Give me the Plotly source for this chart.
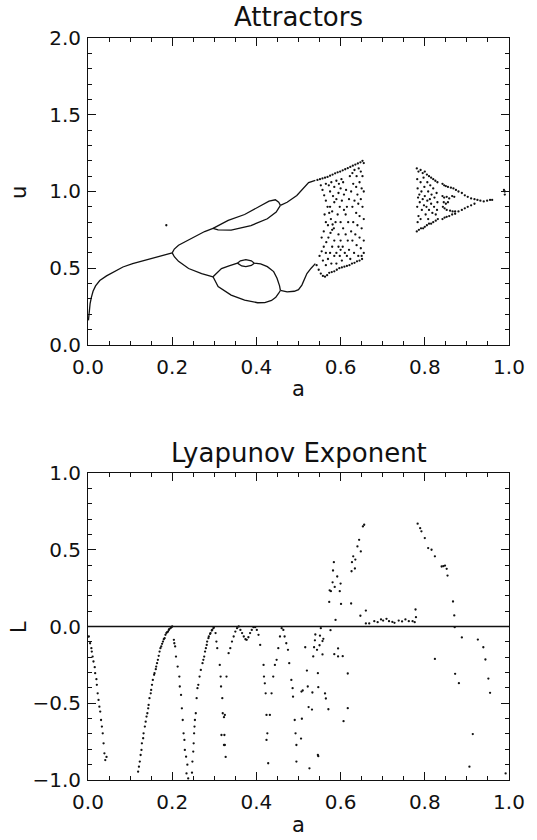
import plotly.graph_objects as go

# ---------------- Attractors (top panel) ----------------
# smooth branches of the bifurcation diagram (a, u)
br1_a = [0.001, 0.002, 0.003, 0.005, 0.008, 0.012, 0.018, 0.028, 0.044, 0.060, 0.083, 0.106, 0.137, 0.169, 0.200]
br1_u = [0.160, 0.190, 0.230, 0.270, 0.310, 0.350, 0.385, 0.420, 0.450, 0.475, 0.508, 0.530, 0.552, 0.574, 0.600]

p2_up_a = [0.200, 0.205, 0.215, 0.230, 0.246, 0.262, 0.277, 0.297]
p2_up_u = [0.600, 0.625, 0.650, 0.672, 0.696, 0.715, 0.739, 0.760]
p2_lo_a = [0.200, 0.205, 0.215, 0.239, 0.270, 0.297]
p2_lo_u = [0.600, 0.575, 0.545, 0.498, 0.465, 0.444]

p4_uu_a = [0.297, 0.310, 0.333, 0.372, 0.403, 0.430, 0.445, 0.453, 0.457]
p4_uu_u = [0.760, 0.780, 0.812, 0.850, 0.898, 0.937, 0.946, 0.930, 0.910]
p4_ul_a = [0.297, 0.309, 0.340, 0.387, 0.426, 0.447, 0.457]
p4_ul_u = [0.760, 0.750, 0.748, 0.778, 0.822, 0.866, 0.910]

p4_lu_a = [0.297, 0.317, 0.335, 0.355, 0.362, 0.375, 0.388, 0.395, 0.410, 0.426, 0.441, 0.449, 0.455, 0.457]
p4_lu_u = [0.444, 0.498, 0.515, 0.533, 0.548, 0.556, 0.548, 0.533, 0.528, 0.510, 0.478, 0.435, 0.385, 0.355]
bub_a = [0.355, 0.365, 0.375, 0.388, 0.395]
bub_u = [0.533, 0.515, 0.510, 0.518, 0.533]
p4_ll_a = [0.297, 0.303, 0.309, 0.340, 0.372, 0.403, 0.420, 0.436, 0.446, 0.453, 0.457]
p4_ll_u = [0.444, 0.410, 0.380, 0.325, 0.292, 0.275, 0.276, 0.290, 0.310, 0.337, 0.355]

p2b_up_a = [0.457, 0.473, 0.496, 0.512, 0.524, 0.540]
p2b_up_u = [0.910, 0.930, 0.974, 1.025, 1.058, 1.072]
p2b_lo_a = [0.457, 0.473, 0.490, 0.500, 0.508, 0.520, 0.530, 0.540]
p2b_lo_u = [0.355, 0.346, 0.350, 0.360, 0.390, 0.465, 0.500, 0.530]

# chaotic band points (a, u)
chaos_a = [
    0.545, 0.551, 0.557, 0.563, 0.569, 0.575, 0.581, 0.587, 0.593, 0.599, 0.605, 0.611, 0.617, 0.623, 0.629, 0.635, 0.641, 0.647, 0.652, 0.655,
    0.543, 0.548, 0.553, 0.558, 0.563, 0.568, 0.573, 0.579, 0.585, 0.591, 0.597, 0.603, 0.609, 0.615, 0.621, 0.627, 0.633, 0.639, 0.645, 0.651,
    0.553, 0.557, 0.561, 0.565, 0.569, 0.573, 0.577, 0.581,
    0.550, 0.555, 0.560, 0.566, 0.571, 0.576, 0.580, 0.584,
    0.588, 0.593, 0.598, 0.603, 0.608, 0.613,
    0.565, 0.572, 0.578, 0.585, 0.590, 0.596, 0.602, 0.575, 0.582, 0.590, 0.600, 0.606, 0.595, 0.585,
    0.622, 0.628, 0.633, 0.638, 0.643, 0.648, 0.652, 0.630, 0.637, 0.645, 0.650, 0.625, 0.640, 0.648, 0.655, 0.633, 0.642, 0.652,
    0.628, 0.637, 0.645, 0.655, 0.630, 0.640, 0.650, 0.625, 0.635, 0.645, 0.655, 0.628, 0.638, 0.648, 0.655, 0.632, 0.642, 0.650,
    0.620, 0.615, 0.623,
    0.595, 0.600, 0.605, 0.610, 0.598, 0.603, 0.590, 0.595, 0.600, 0.606, 0.612, 0.617, 0.612, 0.618, 0.615, 0.620, 0.608,
    0.585, 0.580, 0.585, 0.575, 0.570, 0.578, 0.565, 0.590, 0.600,
    0.570, 0.565, 0.562, 0.575, 0.580, 0.560, 0.555, 0.565, 0.558,
    0.781, 0.785, 0.790, 0.795, 0.800, 0.805, 0.810, 0.815, 0.820, 0.825, 0.830,
    0.781, 0.786, 0.791, 0.796, 0.800, 0.805, 0.810, 0.815, 0.820, 0.826, 0.831,
    0.782, 0.783, 0.784, 0.782, 0.785, 0.783, 0.790, 0.792, 0.788, 0.793, 0.790, 0.797, 0.799, 0.800, 0.798,
    0.802, 0.806, 0.808, 0.806, 0.810, 0.808, 0.813, 0.816, 0.815, 0.818, 0.820, 0.823, 0.822, 0.826, 0.828,
    0.830, 0.829, 0.795, 0.812, 0.787, 0.804,
    0.842, 0.846, 0.850, 0.855, 0.862, 0.868, 0.874,
    0.842, 0.846, 0.852, 0.858, 0.865, 0.870,
    0.843, 0.847, 0.852, 0.860, 0.866, 0.872,
    0.842, 0.847, 0.852, 0.858, 0.865, 0.872,
    0.845, 0.850, 0.855,
    0.880, 0.888, 0.895, 0.902, 0.910, 0.918, 0.925,
    0.880, 0.888, 0.895, 0.902, 0.910, 0.918,
    0.932, 0.940, 0.948, 0.955, 0.960,
    0.988, 0.990, 0.990,
    0.186,
]
chaos_u = [
    1.075, 1.080, 1.085, 1.090, 1.095, 1.103, 1.110, 1.118, 1.125, 1.130, 1.138, 1.145, 1.152, 1.160, 1.168, 1.175, 1.183, 1.190, 1.200, 1.185,
    0.520, 0.490, 0.465, 0.450, 0.445, 0.455, 0.470, 0.475, 0.480, 0.490, 0.500, 0.505, 0.510, 0.515, 0.520, 0.530, 0.535, 0.545, 0.550, 0.560,
    1.040, 1.010, 0.975, 0.940, 0.900, 0.860, 0.820, 0.785,
    0.580, 0.610, 0.640, 0.670, 0.700, 0.730, 0.750, 0.760,
    0.800, 0.850, 0.900, 0.940, 0.980, 1.010,
    1.050, 1.040, 1.060, 1.030, 1.070, 1.050, 1.080, 1.000, 0.970, 0.950, 1.020, 1.060, 0.990, 0.930,
    1.100, 1.120, 1.140, 1.100, 1.150, 1.130, 1.100, 1.050, 1.030, 1.060, 1.020, 1.000, 0.980, 0.950, 1.000, 0.940, 0.920, 0.900,
    0.900, 0.860, 0.840, 0.820, 0.800, 0.780, 0.760, 0.740, 0.720, 0.700, 0.680, 0.680, 0.650, 0.630, 0.600, 0.600, 0.580, 0.580,
    0.620, 0.580, 0.560,
    0.720, 0.680, 0.640, 0.600, 0.580, 0.550, 0.600, 0.640, 0.800, 0.760, 0.720, 0.680, 0.850, 0.800, 0.900, 0.950, 0.880,
    0.680, 0.640, 0.580, 0.600, 0.560, 0.530, 0.520, 0.530, 0.620,
    0.780, 0.800, 0.850, 0.900, 0.870, 0.740, 0.700, 0.600, 0.550,
    1.150, 1.130, 1.140, 1.120, 1.130, 1.110, 1.100, 1.090, 1.080, 1.070, 1.060,
    0.740, 0.750, 0.760, 0.760, 0.770, 0.780, 0.790, 0.790, 0.800, 0.810, 0.820,
    1.080, 1.020, 0.960, 0.900, 0.840, 0.800, 1.060, 1.000, 0.930, 0.880, 0.820, 1.090, 1.030, 0.970, 0.910,
    0.850, 1.060, 1.000, 0.940, 0.880, 0.820, 1.040, 0.980, 0.920, 0.860, 1.020, 0.960, 0.900, 0.850, 0.990,
    0.930, 0.880, 0.950, 0.950, 0.980, 0.900,
    1.050, 1.040, 1.035, 1.030, 1.025, 1.020, 1.010,
    0.970, 0.960, 0.965, 0.955, 0.970, 0.965,
    0.900, 0.890, 0.880, 0.875, 0.870, 0.870,
    0.820, 0.830, 0.835, 0.840, 0.850, 0.855,
    0.930, 0.920, 0.930,
    1.000, 0.990, 0.975, 0.965, 0.955, 0.950, 0.945,
    0.870, 0.880, 0.890, 0.900, 0.910, 0.920,
    0.940, 0.935, 0.940, 0.945, 0.945,
    1.010, 0.980, 1.000,
    0.780,
]

# ---------------- Lyapunov exponent (bottom panel) ----------------
zero_a = [0.0, 1.0]
zero_L = [0.0, 0.0]

lyap_a = [
    0.002, 0.005, 0.008, 0.009, 0.011, 0.013, 0.016, 0.017, 0.020, 0.021, 0.023, 0.025, 0.027, 0.029, 0.031, 0.033, 0.035, 0.037, 0.039, 0.041, 0.044,
    0.119, 0.121, 0.123, 0.125, 0.127, 0.128, 0.131, 0.132, 0.135, 0.137, 0.139, 0.141, 0.143, 0.144, 0.146, 0.149, 0.150, 0.152, 0.154, 0.157,
    0.158, 0.161, 0.162, 0.164, 0.166, 0.168, 0.170, 0.172, 0.174, 0.176, 0.178, 0.180, 0.182, 0.184, 0.186, 0.188, 0.190, 0.192, 0.193, 0.196, 0.198, 0.200,
    0.204, 0.205, 0.207, 0.209, 0.213, 0.217, 0.218, 0.221, 0.223, 0.225, 0.227, 0.229, 0.230, 0.233, 0.234, 0.236, 0.238,
    0.247, 0.248, 0.250, 0.251, 0.252, 0.253, 0.254, 0.256, 0.258, 0.260, 0.262, 0.265, 0.268, 0.272, 0.274, 0.276, 0.278, 0.280, 0.282, 0.283,
    0.286, 0.287, 0.290, 0.291, 0.294, 0.295, 0.298, 0.299,
    0.303, 0.305, 0.307, 0.313, 0.315, 0.316, 0.319, 0.320, 0.323, 0.324, 0.325, 0.329, 0.317, 0.323, 0.325, 0.327,
    0.334, 0.338, 0.342, 0.346, 0.350, 0.354, 0.358, 0.362, 0.366, 0.370, 0.374, 0.377, 0.381, 0.385, 0.389, 0.393, 0.397, 0.401, 0.405, 0.409,
    0.417, 0.418, 0.420, 0.422, 0.424, 0.426, 0.424, 0.428, 0.432, 0.436, 0.440, 0.444, 0.448, 0.452, 0.456, 0.460,
    0.464, 0.467, 0.471, 0.475, 0.478, 0.483, 0.486, 0.487, 0.491, 0.493, 0.495, 0.495,
    0.508, 0.506, 0.510, 0.516, 0.520, 0.522, 0.524, 0.532, 0.533, 0.535, 0.537, 0.539, 0.540, 0.544, 0.546, 0.547, 0.550, 0.551,
    0.553, 0.557, 0.557, 0.559, 0.563, 0.565, 0.571, 0.547, 0.576, 0.526, 0.546, 0.507,
    0.573, 0.574, 0.577, 0.581, 0.582, 0.584, 0.586, 0.588, 0.585, 0.594, 0.594, 0.592, 0.598, 0.600, 0.601, 0.605, 0.607, 0.617, 0.617,
    0.625, 0.626, 0.627, 0.634, 0.635, 0.630, 0.640, 0.644, 0.648, 0.653, 0.656, 0.647, 0.660, 0.660, 0.668,
    0.680, 0.688, 0.696, 0.701, 0.709, 0.715, 0.723, 0.728, 0.738, 0.746, 0.754, 0.762, 0.771, 0.776, 0.778, 0.779,
    0.783, 0.789, 0.792, 0.800, 0.808, 0.816, 0.824, 0.840, 0.844, 0.848, 0.852, 0.854, 0.867, 0.870, 0.871,
    0.824, 0.888, 0.872, 0.881, 0.914, 0.906, 0.926, 0.939, 0.944, 0.951, 0.955, 0.992,
]
lyap_L = [
    -0.065, -0.109, -0.141, -0.163, -0.196, -0.228, -0.265, -0.304, -0.343, -0.380, -0.435, -0.478, -0.522, -0.554, -0.609, -0.652, -0.696, -0.761, -0.826, -0.870, -0.850,
    -0.946, -0.913, -0.880, -0.837, -0.804, -0.761, -0.728, -0.696, -0.652, -0.620, -0.587, -0.565, -0.533, -0.511, -0.467, -0.435, -0.413, -0.380, -0.348, -0.315,
    -0.304, -0.278, -0.261, -0.239, -0.217, -0.191, -0.163, -0.141, -0.130, -0.113, -0.098, -0.083, -0.076, -0.054, -0.043, -0.037, -0.033, -0.022, -0.017, -0.011, -0.004, 0.000,
    -0.087, -0.109, -0.130, -0.196, -0.261, -0.326, -0.391, -0.446, -0.533, -0.609, -0.696, -0.739, -0.804, -0.848, -0.957, -0.900, -0.990,
    -0.952, -0.880, -0.815, -0.761, -0.696, -0.652, -0.609, -0.565, -0.467, -0.402, -0.380, -0.326, -0.283, -0.239, -0.217, -0.196, -0.163, -0.141, -0.120, -0.098,
    -0.076, -0.065, -0.048, -0.043, -0.026, -0.022, -0.011, -0.004,
    -0.043, -0.098, -0.141, -0.250, -0.326, -0.391, -0.467, -0.565, -0.591, -0.707, -0.772, -0.326, -0.707, -0.772, -0.576, -0.850,
    -0.174, -0.141, -0.098, -0.065, -0.033, -0.011, 0.000, -0.022, -0.043, -0.065, -0.083, -0.087, -0.070, -0.043, -0.022, -0.004, -0.004, -0.022, -0.054, -0.120,
    -0.250, -0.326, -0.370, -0.435, -0.576, -0.696, -0.739, -0.891, -0.576, -0.435, -0.326, -0.250, -0.217, -0.141, -0.065, -0.011,
    -0.022, -0.065, -0.109, -0.152, -0.239, -0.348, -0.402, -0.457, -0.609, -0.696, -0.772, -0.880,
    -0.601, -0.730, -0.417, -0.135, -0.287, -0.391, -0.525, -0.541, -0.430, -0.195, -0.135, -0.090, -0.052, -0.152, -0.304, -0.395, -0.122, -0.060,
    -0.011, -0.182, -0.095, -0.080, -0.436, -0.469, -0.539, -0.845, -0.024, -0.924, -0.837, -0.424,
    0.160, 0.236, 0.230, 0.288, 0.365, 0.419, 0.258, 0.043, -0.180, -0.143, -0.195, 0.326, 0.230, 0.280, 0.147, -0.193, -0.617, -0.306, -0.532,
    0.150, 0.360, 0.419, 0.378, 0.436, 0.457, 0.522, 0.565, 0.489, 0.652, 0.663, 0.070, 0.104, 0.020, 0.020,
    0.035, 0.028, 0.046, 0.039, 0.050, 0.035, 0.030, 0.024, 0.039, 0.033, 0.046, 0.035, 0.035, 0.028, 0.111, 0.061,
    0.670, 0.641, 0.620, 0.576, 0.511, 0.500, 0.457, 0.391, 0.393, 0.397, 0.376, 0.332, 0.163, 0.072, -0.004,
    -0.211, -0.071, -0.308, -0.369, -0.701, -0.913, -0.085, -0.135, -0.215, -0.339, -0.432, -0.957,
]

FONT = "DejaVu Sans"
INK = "#111111"

fig = go.Figure()

branches = [
    (br1_a, br1_u), (p2_up_a, p2_up_u), (p2_lo_a, p2_lo_u),
    (p4_uu_a, p4_uu_u), (p4_ul_a, p4_ul_u), (p4_lu_a, p4_lu_u), (bub_a, bub_u),
    (p4_ll_a, p4_ll_u), (p2b_up_a, p2b_up_u), (p2b_lo_a, p2b_lo_u),
]
for xa, yu in branches:
    fig.add_trace(go.Scatter(x=xa, y=yu, mode="lines", line=dict(color=INK, width=1.3),
                             xaxis="x", yaxis="y", showlegend=False, hoverinfo="skip"))
fig.add_trace(go.Scatter(x=chaos_a, y=chaos_u, mode="markers", marker=dict(color=INK, size=2.3),
                         xaxis="x", yaxis="y", showlegend=False))

fig.add_trace(go.Scatter(x=zero_a, y=zero_L, mode="lines", line=dict(color=INK, width=1.4),
                         xaxis="x2", yaxis="y2", showlegend=False, hoverinfo="skip"))
fig.add_trace(go.Scatter(x=lyap_a, y=lyap_L, mode="markers", marker=dict(color=INK, size=2.3),
                         xaxis="x2", yaxis="y2", showlegend=False))

# empty traces that attach the minor-tick overlay axes
fig.add_trace(go.Scatter(x=[], y=[], xaxis="x3", yaxis="y3", showlegend=False))
fig.add_trace(go.Scatter(x=[], y=[], xaxis="x4", yaxis="y4", showlegend=False))

TOP = [0.5863, 1.0]
BOT = [0.0, 0.4137]

major = dict(
    showline=True, linecolor=INK, linewidth=1, mirror="ticks",
    ticks="inside", ticklen=8, tickwidth=1, tickcolor=INK,
    showgrid=False, zeroline=False,
    tickfont=dict(family=FONT, size=20, color=INK),
    tickformat=".1f",
)
minor = dict(
    showline=False, mirror="ticks", ticks="inside", ticklen=4, tickwidth=1, tickcolor=INK,
    showgrid=False, zeroline=False, showticklabels=False,
)

fig.update_layout(
    width=537, height=840,
    margin=dict(l=88, r=22, t=38, b=60),
    paper_bgcolor="white", plot_bgcolor="white",
    xaxis=dict(domain=[0, 1], range=[0, 1], dtick=0.2, tick0=0, anchor="y", ticklabelstandoff=4, **major),
    yaxis=dict(domain=TOP, range=[0, 2], dtick=0.5, tick0=0, anchor="x", ticklabelstandoff=2, **major),
    xaxis2=dict(domain=[0, 1], range=[0, 1], dtick=0.2, tick0=0, anchor="y2", ticklabelstandoff=4, **major),
    yaxis2=dict(domain=BOT, range=[-1, 1], dtick=0.5, tick0=-1, anchor="x2", ticklabelstandoff=2, **major),
    xaxis3=dict(overlaying="x", anchor="y", range=[0, 1], dtick=0.05, tick0=0, **minor),
    yaxis3=dict(overlaying="y", anchor="x", range=[0, 2], dtick=0.1, tick0=0, **minor),
    xaxis4=dict(overlaying="x2", anchor="y2", range=[0, 1], dtick=0.05, tick0=0, **minor),
    yaxis4=dict(overlaying="y2", anchor="x2", range=[-1, 1], dtick=0.1, tick0=-1, **minor),
    annotations=[
        dict(text="Attractors", x=0.5, y=(780 - 17) / 742, xref="paper", yref="paper", showarrow=False,
             xanchor="center", yanchor="middle", font=dict(family=FONT, size=26, color=INK)),
        dict(text="Lyapunov Exponent", x=0.5, y=(780 - 453) / 742, xref="paper", yref="paper", showarrow=False,
             xanchor="center", yanchor="middle", font=dict(family=FONT, size=26, color=INK)),
        dict(text="a", x=0.5, y=(780 - 389) / 742, xref="paper", yref="paper", showarrow=False,
             xanchor="center", yanchor="middle", font=dict(family=FONT, size=21, color=INK)),
        dict(text="a", x=0.5, y=(780 - 825) / 742, xref="paper", yref="paper", showarrow=False,
             xanchor="center", yanchor="middle", font=dict(family=FONT, size=21, color=INK)),
        dict(text="u", x=(18 - 88) / 427, y=(780 - 192) / 742, xref="paper", yref="paper", showarrow=False,
             xanchor="center", yanchor="middle", textangle=-90, font=dict(family=FONT, size=21, color=INK)),
        dict(text="L", x=(18 - 88) / 427, y=(780 - 627) / 742, xref="paper", yref="paper", showarrow=False,
             xanchor="center", yanchor="middle", textangle=-90, font=dict(family=FONT, size=21, color=INK)),
    ],
)

fig.write_html("out.html")
